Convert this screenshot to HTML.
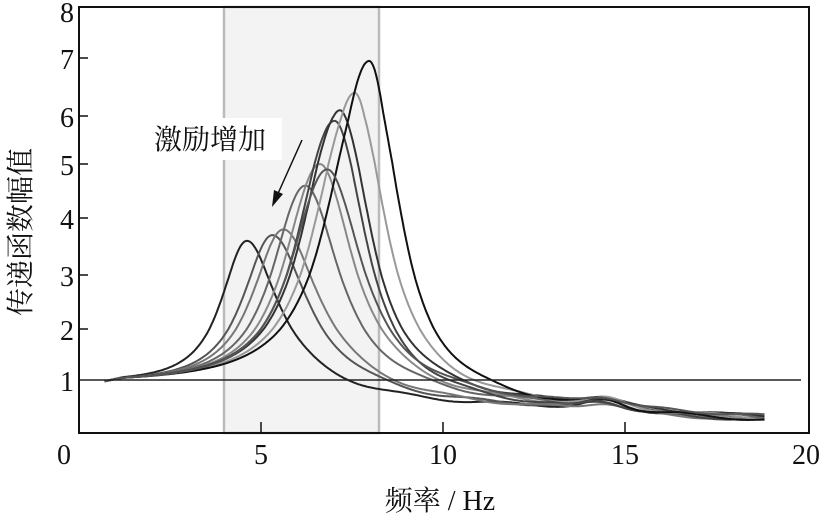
<!DOCTYPE html>
<html><head><meta charset="utf-8"><style>
body{margin:0;background:#fff;width:823px;height:517px;overflow:hidden}
svg{display:block}
text{font-family:"Liberation Serif","Noto Serif CJK SC",serif;fill:#111}
</style></head><body>
<svg id="s" width="823" height="517" xmlns="http://www.w3.org/2000/svg">
<rect x="224" y="7" width="155" height="426" fill="#f3f3f3" stroke="#bbb" stroke-width="2.5"/>
<g id="curves" fill="none" stroke-linejoin="round"></g>
<line x1="79" y1="380" x2="801" y2="380" stroke="#222" stroke-width="1.5"/>
<rect x="79" y="7" width="730" height="426" fill="none" stroke="#111" stroke-width="2"/>
<g stroke="#111" stroke-width="1.5">
<line x1="79" y1="58" x2="88" y2="58"/><line x1="79" y1="116" x2="88" y2="116"/><line x1="79" y1="164" x2="88" y2="164"/>
<line x1="79" y1="218" x2="88" y2="218"/><line x1="79" y1="275" x2="88" y2="275"/><line x1="79" y1="329" x2="88" y2="329"/>
<line x1="261" y1="433" x2="261" y2="422"/><line x1="443" y1="433" x2="443" y2="422"/><line x1="625" y1="433" x2="625" y2="422"/>
</g>
<g font-size="28" text-anchor="end">
<text x="74" y="22">8</text><text x="74" y="69">7</text><text x="74" y="127">6</text><text x="74" y="175">5</text>
<text x="74" y="229">4</text><text x="74" y="286">3</text><text x="74" y="340">2</text><text x="74" y="391">1</text>
</g>
<g font-size="28" text-anchor="middle">
<text x="64" y="464">0</text><text x="261" y="464">5</text><text x="443" y="464">10</text><text x="625" y="464">15</text><text x="806" y="464">20</text>
</g>
<text x="440" y="510" font-size="28" text-anchor="middle">频率 / Hz</text>
<text transform="translate(30,232) rotate(-90)" font-size="28" text-anchor="middle">传递函数幅值</text>
<rect x="150" y="118" width="132" height="42" fill="#fff"/>
<text x="154" y="149" font-size="28">激励增加</text>
<line x1="302" y1="140" x2="276" y2="198" stroke="#111" stroke-width="1.5"/>
<polygon points="272,207 274,190 283,194" fill="#111"/>
</svg>
<script>
var Y=[433,380,329,275,218,164,116,58,7];
function ym(v){if(v<0)v=0;if(v>8)v=8;var i=Math.min(7,Math.floor(v));return Y[i]+(Y[i+1]-Y[i])*(v-i);}
function xm(f){return 79+f*36.5;}
var peaks=[[4.6,3.6,"#222"],[5.3,3.7,"#555"],[5.6,3.8,"#777"],[6.2,4.6,"#666"],[6.6,5.0,"#888"],[7.0,5.9,"#444"],[7.15,6.1,"#333"],[7.55,6.4,"#999"],[7.95,6.95,"#111"],[6.8,4.9,"#555"]];
var g=document.getElementById("curves"),h="";
peaks.forEach(function(p,k){var f0=p[0],A=p[1],d="";
var wl=0.2*Math.pow(3.6/A,0.3),wr=0.8/A;
for(var f=0.7;f<=18.8;f+=0.04){var L=Math.log(f/f0),v;
var fl=0.38-0.03*(f-13)+0.15*Math.exp(-Math.pow((f-14.4)/0.7,2))+0.03*Math.sin(f*2.3+k*1.7)-0.04*(k%3);
if(f<13)fl=0.38+0.03*Math.sin(f*2.3+k*1.7)-0.04*(k%3)+0.45*Math.exp(-(f-f0)*0.6)*(k<5?0.8:0.4);
if(L<0){v=1+(A-1)/(1+Math.pow(L/wl,2));if(f<1.2)v-=0.1*(1.2-f);}
else{var base=fl+(1-fl)*Math.exp(-L*12);v=base+(A-base)/(1+Math.pow(L/wr,2));}
d+=(d?"L":"M")+xm(f).toFixed(1)+","+ym(v).toFixed(1);}
h+='<path d="'+d+'" stroke="'+p[2]+'" stroke-width="2"/>';});
g.innerHTML=h;
</script>
</body></html>
